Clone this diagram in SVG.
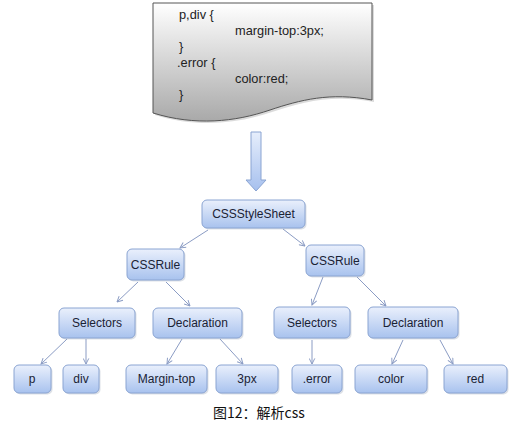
<svg xmlns="http://www.w3.org/2000/svg" width="515" height="436" viewBox="0 0 515 436">
<style>
.node rect.b{fill:url(#ng);stroke:#8aa4d2;stroke-width:1}
.node rect.s{fill:#9aa6b8;opacity:0.35}
.node text{font-family:"Liberation Sans",Arial,sans-serif;font-size:12px;fill:#1a2234;text-anchor:middle;dominant-baseline:central}
.doc{font-family:"Liberation Sans",Arial,sans-serif;font-size:12.8px;fill:#222}
#connectors line{stroke:#8b9cc4;stroke-width:1;marker-end:url(#ah)}
</style>
<defs>
<linearGradient id="ng" x1="0" y1="0" x2="0" y2="1">
<stop offset="0" stop-color="#eaf0fc"/>
<stop offset="1" stop-color="#a8c2ee"/>
</linearGradient>
<linearGradient id="dg" x1="0" y1="0" x2="0" y2="1">
<stop offset="0" stop-color="#ffffff"/>
<stop offset="1" stop-color="#a9a9a9"/>
</linearGradient>
<linearGradient id="ag" x1="0" y1="0" x2="0" y2="1">
<stop offset="0" stop-color="#e6eefc"/>
<stop offset="1" stop-color="#a6c0ee"/>
</linearGradient>
<marker id="ah" viewBox="0 0 10 10" refX="9" refY="5" markerWidth="7" markerHeight="7" orient="auto" markerUnits="userSpaceOnUse">
<polyline points="1,1 9,5 1,9" fill="none" stroke="#8b9cc4" stroke-width="1.4"/>
</marker>
</defs>
<rect width="515" height="436" fill="#ffffff"/>

<g id="document">
<path d="M155,5 L374,5 L374,102 C332,94 302,102 272,112 C237,124 197,128 155,115 Z" fill="#888" opacity="0.3"/>
<path d="M153,3 L372,3 L372,100 C330,92 300,100 270,110 C235,122 195,126 153,113 Z" fill="url(#dg)" stroke="#555" stroke-width="1"/>
<text class="doc" x="179" y="19">p,div {</text>
<text class="doc" x="235" y="35">margin-top:3px;</text>
<text class="doc" x="179" y="51">}</text>
<text class="doc" x="177" y="67">.error {</text>
<text class="doc" x="235" y="83">color:red;</text>
<text class="doc" x="179" y="99">}</text>
</g>

<g id="arrow">
<path d="M251,132 H261 V180 H266 L256,191 L246,180 H251 Z" fill="url(#ag)" stroke="#8aa4d2" stroke-width="1"/>
</g>

<g id="connectors">
<line x1="208" y1="230" x2="180" y2="248"/>
<line x1="283" y1="229" x2="305" y2="246"/>
<line x1="138" y1="282" x2="117" y2="302"/>
<line x1="166" y1="282" x2="190" y2="306"/>
<line x1="323" y1="277" x2="312" y2="305"/>
<line x1="357" y1="277" x2="386" y2="306"/>
<line x1="67" y1="339" x2="41" y2="364"/>
<line x1="86" y1="339" x2="86" y2="364"/>
<line x1="182" y1="339" x2="167" y2="364"/>
<line x1="220" y1="339" x2="243" y2="364"/>
<line x1="312" y1="340" x2="312" y2="364"/>
<line x1="403" y1="340" x2="392" y2="364"/>
<line x1="440" y1="340" x2="453" y2="364"/>
</g>

<g id="n-sheet" class="node"><rect class="s" x="203.5" y="201.5" width="103" height="28" rx="5"/><rect class="b" x="202" y="200" width="103" height="28" rx="5"/><text x="253.5" y="214">CSSStyleSheet</text></g>
<g id="n-rule1" class="node"><rect class="s" x="128.5" y="250.5" width="57" height="31" rx="5"/><rect class="b" x="127" y="249" width="57" height="31" rx="5"/><text x="155.5" y="264.5">CSSRule</text></g>
<g id="n-rule2" class="node"><rect class="s" x="307.5" y="246.5" width="58" height="31" rx="5"/><rect class="b" x="306" y="245" width="58" height="31" rx="5"/><text x="335" y="260.5">CSSRule</text></g>
<g id="n-sel1" class="node"><rect class="s" x="60.5" y="309.5" width="76" height="30" rx="5"/><rect class="b" x="59" y="308" width="76" height="30" rx="5"/><text x="97" y="323">Selectors</text></g>
<g id="n-dec1" class="node"><rect class="s" x="154.5" y="309.5" width="89" height="30" rx="5"/><rect class="b" x="153" y="308" width="89" height="30" rx="5"/><text x="197.5" y="323">Declaration</text></g>
<g id="n-sel2" class="node"><rect class="s" x="275.5" y="308.5" width="76" height="31" rx="5"/><rect class="b" x="274" y="307" width="76" height="31" rx="5"/><text x="312" y="322.5">Selectors</text></g>
<g id="n-dec2" class="node"><rect class="s" x="369.5" y="308.5" width="90" height="31" rx="5"/><rect class="b" x="368" y="307" width="90" height="31" rx="5"/><text x="413" y="322.5">Declaration</text></g>
<g id="n-p" class="node"><rect class="s" x="15.5" y="366.5" width="37" height="28" rx="5"/><rect class="b" x="14" y="365" width="37" height="28" rx="5"/><text x="32" y="379">p</text></g>
<g id="n-div" class="node"><rect class="s" x="64.5" y="366.5" width="36" height="28" rx="5"/><rect class="b" x="63" y="365" width="36" height="28" rx="5"/><text x="81" y="379">div</text></g>
<g id="n-margin" class="node"><rect class="s" x="127.5" y="366.5" width="81" height="28" rx="5"/><rect class="b" x="126" y="365" width="81" height="28" rx="5"/><text x="166.5" y="379">Margin-top</text></g>
<g id="n-3px" class="node"><rect class="s" x="217.5" y="366.5" width="62" height="28" rx="5"/><rect class="b" x="216" y="365" width="62" height="28" rx="5"/><text x="247" y="379">3px</text></g>
<g id="n-error" class="node"><rect class="s" x="293.5" y="366.5" width="50" height="28" rx="5"/><rect class="b" x="292" y="365" width="50" height="28" rx="5"/><text x="317" y="379">.error</text></g>
<g id="n-color" class="node"><rect class="s" x="356.5" y="366.5" width="72" height="28" rx="5"/><rect class="b" x="355" y="365" width="72" height="28" rx="5"/><text x="391" y="379">color</text></g>
<g id="n-red" class="node"><rect class="s" x="445.5" y="366.5" width="63" height="28" rx="5"/><rect class="b" x="444" y="365" width="63" height="28" rx="5"/><text x="475.5" y="379">red</text></g>

<text x="213" y="418" font-family="'Noto Sans CJK SC','Liberation Sans',sans-serif" font-size="14" fill="#111">图12：解析css</text>
</svg>
